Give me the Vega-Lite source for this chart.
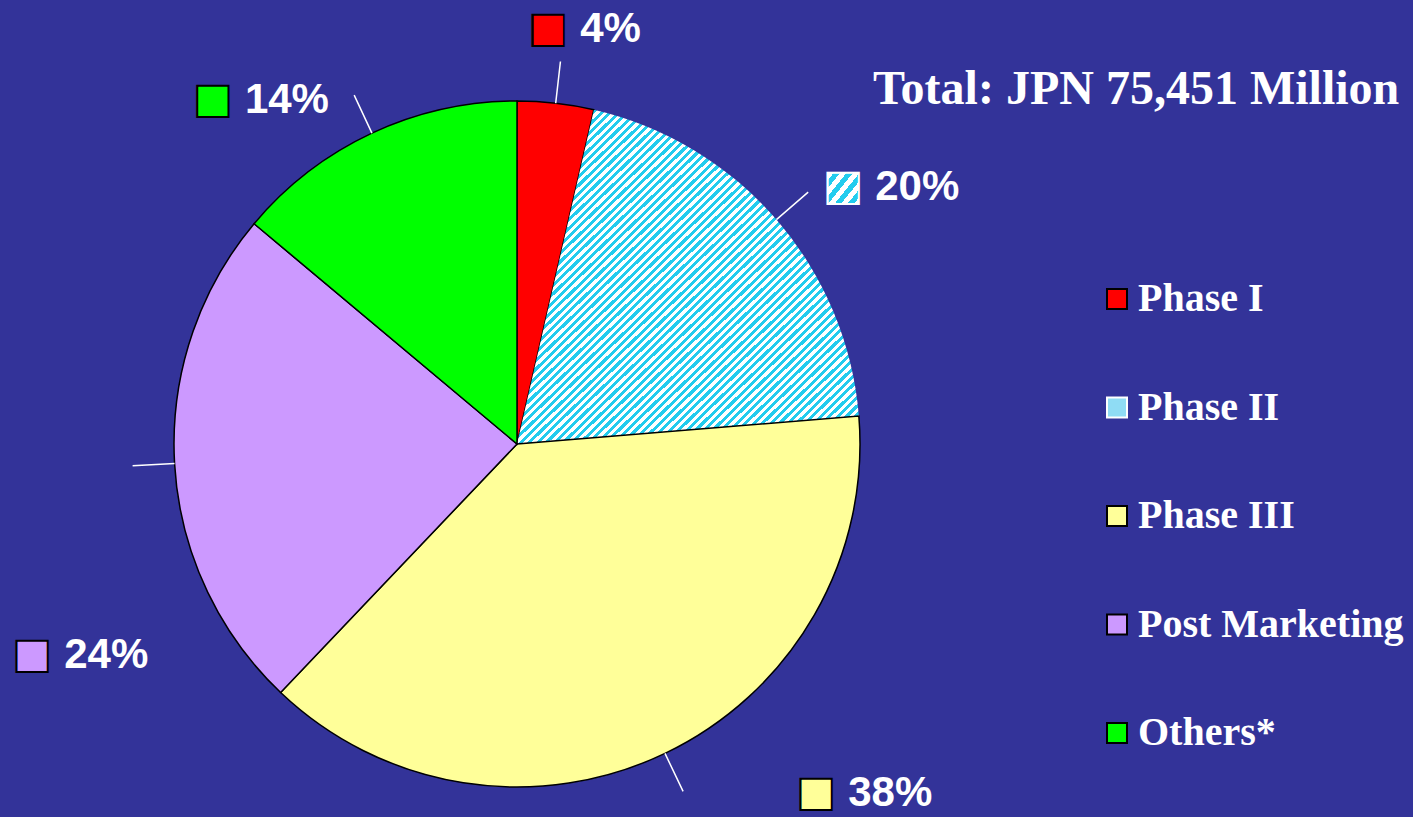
{
  "$schema": "https://vega.github.io/schema/vega-lite/v6.json",
  "width": 686,
  "height": 686,
  "autosize": {"type": "none"},
  "padding": {"left": 174, "top": 101, "right": 553, "bottom": 30},
  "background": "#333399",
  "title": {
    "text": "Total:  JPN 75,451 Million",
    "font": "Liberation Serif",
    "fontSize": 48,
    "fontWeight": "bold",
    "color": "#ffffff",
    "anchor": "start",
    "frame": "group",
    "orient": "top",
    "offset": 0,
    "baseline": "alphabetic",
    "dx": 699,
    "dy": 144
  },
  "data": {
    "values": [
      {"phase": "Phase I", "value": 3.6, "label": "4%", "rank": 1},
      {"phase": "Phase II", "value": 20.1, "label": "20%", "rank": 2},
      {"phase": "Phase III", "value": 38.4, "label": "38%", "rank": 3},
      {"phase": "Post Marketing", "value": 24.0, "label": "24%", "rank": 4},
      {"phase": "Others*", "value": 13.9, "label": "14%", "rank": 5}
    ]
  },
  "encoding": {
    "theta": {"field": "value", "type": "quantitative", "stack": true},
    "order": {"field": "rank", "type": "quantitative"}
  },
  "layer": [
    {
      "mark": {"type": "arc", "outerRadius": 343, "strokeWidth": 1.5},
      "encoding": {
        "color": {
          "condition": {
            "test": "datum.phase === 'Phase II'",
            "value": {
              "gradient": "linear", "x1": 0, "y1": 0, "x2": 1, "y2": 1,
              "stops": [
{"offset":0,"color":"#2ce"},{"offset":0.00625,"color":"#2ce"},{"offset":0.00625,"color":"#fff"},{"offset":0.0125,"color":"#fff"},{"offset":0.0125,"color":"#2ce"},{"offset":0.01875,"color":"#2ce"},{"offset":0.01875,"color":"#fff"},{"offset":0.025,"color":"#fff"},{"offset":0.025,"color":"#2ce"},{"offset":0.03125,"color":"#2ce"},{"offset":0.03125,"color":"#fff"},{"offset":0.0375,"color":"#fff"},{"offset":0.0375,"color":"#2ce"},{"offset":0.04375,"color":"#2ce"},{"offset":0.04375,"color":"#fff"},{"offset":0.05,"color":"#fff"},{"offset":0.05,"color":"#2ce"},{"offset":0.05625,"color":"#2ce"},{"offset":0.05625,"color":"#fff"},{"offset":0.0625,"color":"#fff"},{"offset":0.0625,"color":"#2ce"},{"offset":0.06875,"color":"#2ce"},{"offset":0.06875,"color":"#fff"},{"offset":0.075,"color":"#fff"},{"offset":0.075,"color":"#2ce"},{"offset":0.08125,"color":"#2ce"},{"offset":0.08125,"color":"#fff"},{"offset":0.0875,"color":"#fff"},{"offset":0.0875,"color":"#2ce"},{"offset":0.09375,"color":"#2ce"},{"offset":0.09375,"color":"#fff"},{"offset":0.1,"color":"#fff"},
{"offset":0.1,"color":"#2ce"},{"offset":0.10625,"color":"#2ce"},{"offset":0.10625,"color":"#fff"},{"offset":0.1125,"color":"#fff"},{"offset":0.1125,"color":"#2ce"},{"offset":0.11875,"color":"#2ce"},{"offset":0.11875,"color":"#fff"},{"offset":0.125,"color":"#fff"},{"offset":0.125,"color":"#2ce"},{"offset":0.13125,"color":"#2ce"},{"offset":0.13125,"color":"#fff"},{"offset":0.1375,"color":"#fff"},{"offset":0.1375,"color":"#2ce"},{"offset":0.14375,"color":"#2ce"},{"offset":0.14375,"color":"#fff"},{"offset":0.15,"color":"#fff"},{"offset":0.15,"color":"#2ce"},{"offset":0.15625,"color":"#2ce"},{"offset":0.15625,"color":"#fff"},{"offset":0.1625,"color":"#fff"},{"offset":0.1625,"color":"#2ce"},{"offset":0.16875,"color":"#2ce"},{"offset":0.16875,"color":"#fff"},{"offset":0.175,"color":"#fff"},{"offset":0.175,"color":"#2ce"},{"offset":0.18125,"color":"#2ce"},{"offset":0.18125,"color":"#fff"},{"offset":0.1875,"color":"#fff"},{"offset":0.1875,"color":"#2ce"},{"offset":0.19375,"color":"#2ce"},{"offset":0.19375,"color":"#fff"},{"offset":0.2,"color":"#fff"},
{"offset":0.2,"color":"#2ce"},{"offset":0.20625,"color":"#2ce"},{"offset":0.20625,"color":"#fff"},{"offset":0.2125,"color":"#fff"},{"offset":0.2125,"color":"#2ce"},{"offset":0.21875,"color":"#2ce"},{"offset":0.21875,"color":"#fff"},{"offset":0.225,"color":"#fff"},{"offset":0.225,"color":"#2ce"},{"offset":0.23125,"color":"#2ce"},{"offset":0.23125,"color":"#fff"},{"offset":0.2375,"color":"#fff"},{"offset":0.2375,"color":"#2ce"},{"offset":0.24375,"color":"#2ce"},{"offset":0.24375,"color":"#fff"},{"offset":0.25,"color":"#fff"},{"offset":0.25,"color":"#2ce"},{"offset":0.25625,"color":"#2ce"},{"offset":0.25625,"color":"#fff"},{"offset":0.2625,"color":"#fff"},{"offset":0.2625,"color":"#2ce"},{"offset":0.26875,"color":"#2ce"},{"offset":0.26875,"color":"#fff"},{"offset":0.275,"color":"#fff"},{"offset":0.275,"color":"#2ce"},{"offset":0.28125,"color":"#2ce"},{"offset":0.28125,"color":"#fff"},{"offset":0.2875,"color":"#fff"},{"offset":0.2875,"color":"#2ce"},{"offset":0.29375,"color":"#2ce"},{"offset":0.29375,"color":"#fff"},{"offset":0.3,"color":"#fff"},
{"offset":0.3,"color":"#2ce"},{"offset":0.30625,"color":"#2ce"},{"offset":0.30625,"color":"#fff"},{"offset":0.3125,"color":"#fff"},{"offset":0.3125,"color":"#2ce"},{"offset":0.31875,"color":"#2ce"},{"offset":0.31875,"color":"#fff"},{"offset":0.325,"color":"#fff"},{"offset":0.325,"color":"#2ce"},{"offset":0.33125,"color":"#2ce"},{"offset":0.33125,"color":"#fff"},{"offset":0.3375,"color":"#fff"},{"offset":0.3375,"color":"#2ce"},{"offset":0.34375,"color":"#2ce"},{"offset":0.34375,"color":"#fff"},{"offset":0.35,"color":"#fff"},{"offset":0.35,"color":"#2ce"},{"offset":0.35625,"color":"#2ce"},{"offset":0.35625,"color":"#fff"},{"offset":0.3625,"color":"#fff"},{"offset":0.3625,"color":"#2ce"},{"offset":0.36875,"color":"#2ce"},{"offset":0.36875,"color":"#fff"},{"offset":0.375,"color":"#fff"},{"offset":0.375,"color":"#2ce"},{"offset":0.38125,"color":"#2ce"},{"offset":0.38125,"color":"#fff"},{"offset":0.3875,"color":"#fff"},{"offset":0.3875,"color":"#2ce"},{"offset":0.39375,"color":"#2ce"},{"offset":0.39375,"color":"#fff"},{"offset":0.4,"color":"#fff"},
{"offset":0.4,"color":"#2ce"},{"offset":0.40625,"color":"#2ce"},{"offset":0.40625,"color":"#fff"},{"offset":0.4125,"color":"#fff"},{"offset":0.4125,"color":"#2ce"},{"offset":0.41875,"color":"#2ce"},{"offset":0.41875,"color":"#fff"},{"offset":0.425,"color":"#fff"},{"offset":0.425,"color":"#2ce"},{"offset":0.43125,"color":"#2ce"},{"offset":0.43125,"color":"#fff"},{"offset":0.4375,"color":"#fff"},{"offset":0.4375,"color":"#2ce"},{"offset":0.44375,"color":"#2ce"},{"offset":0.44375,"color":"#fff"},{"offset":0.45,"color":"#fff"},{"offset":0.45,"color":"#2ce"},{"offset":0.45625,"color":"#2ce"},{"offset":0.45625,"color":"#fff"},{"offset":0.4625,"color":"#fff"},{"offset":0.4625,"color":"#2ce"},{"offset":0.46875,"color":"#2ce"},{"offset":0.46875,"color":"#fff"},{"offset":0.475,"color":"#fff"},{"offset":0.475,"color":"#2ce"},{"offset":0.48125,"color":"#2ce"},{"offset":0.48125,"color":"#fff"},{"offset":0.4875,"color":"#fff"},{"offset":0.4875,"color":"#2ce"},{"offset":0.49375,"color":"#2ce"},{"offset":0.49375,"color":"#fff"},{"offset":0.5,"color":"#fff"},
{"offset":0.5,"color":"#2ce"},{"offset":0.50625,"color":"#2ce"},{"offset":0.50625,"color":"#fff"},{"offset":0.5125,"color":"#fff"},{"offset":0.5125,"color":"#2ce"},{"offset":0.51875,"color":"#2ce"},{"offset":0.51875,"color":"#fff"},{"offset":0.525,"color":"#fff"},{"offset":0.525,"color":"#2ce"},{"offset":0.53125,"color":"#2ce"},{"offset":0.53125,"color":"#fff"},{"offset":0.5375,"color":"#fff"},{"offset":0.5375,"color":"#2ce"},{"offset":0.54375,"color":"#2ce"},{"offset":0.54375,"color":"#fff"},{"offset":0.55,"color":"#fff"},{"offset":0.55,"color":"#2ce"},{"offset":0.55625,"color":"#2ce"},{"offset":0.55625,"color":"#fff"},{"offset":0.5625,"color":"#fff"},{"offset":0.5625,"color":"#2ce"},{"offset":0.56875,"color":"#2ce"},{"offset":0.56875,"color":"#fff"},{"offset":0.575,"color":"#fff"},{"offset":0.575,"color":"#2ce"},{"offset":0.58125,"color":"#2ce"},{"offset":0.58125,"color":"#fff"},{"offset":0.5875,"color":"#fff"},{"offset":0.5875,"color":"#2ce"},{"offset":0.59375,"color":"#2ce"},{"offset":0.59375,"color":"#fff"},{"offset":0.6,"color":"#fff"},
{"offset":0.6,"color":"#2ce"},{"offset":0.60625,"color":"#2ce"},{"offset":0.60625,"color":"#fff"},{"offset":0.6125,"color":"#fff"},{"offset":0.6125,"color":"#2ce"},{"offset":0.61875,"color":"#2ce"},{"offset":0.61875,"color":"#fff"},{"offset":0.625,"color":"#fff"},{"offset":0.625,"color":"#2ce"},{"offset":0.63125,"color":"#2ce"},{"offset":0.63125,"color":"#fff"},{"offset":0.6375,"color":"#fff"},{"offset":0.6375,"color":"#2ce"},{"offset":0.64375,"color":"#2ce"},{"offset":0.64375,"color":"#fff"},{"offset":0.65,"color":"#fff"},{"offset":0.65,"color":"#2ce"},{"offset":0.65625,"color":"#2ce"},{"offset":0.65625,"color":"#fff"},{"offset":0.6625,"color":"#fff"},{"offset":0.6625,"color":"#2ce"},{"offset":0.66875,"color":"#2ce"},{"offset":0.66875,"color":"#fff"},{"offset":0.675,"color":"#fff"},{"offset":0.675,"color":"#2ce"},{"offset":0.68125,"color":"#2ce"},{"offset":0.68125,"color":"#fff"},{"offset":0.6875,"color":"#fff"},{"offset":0.6875,"color":"#2ce"},{"offset":0.69375,"color":"#2ce"},{"offset":0.69375,"color":"#fff"},{"offset":0.7,"color":"#fff"},
{"offset":0.7,"color":"#2ce"},{"offset":0.70625,"color":"#2ce"},{"offset":0.70625,"color":"#fff"},{"offset":0.7125,"color":"#fff"},{"offset":0.7125,"color":"#2ce"},{"offset":0.71875,"color":"#2ce"},{"offset":0.71875,"color":"#fff"},{"offset":0.725,"color":"#fff"},{"offset":0.725,"color":"#2ce"},{"offset":0.73125,"color":"#2ce"},{"offset":0.73125,"color":"#fff"},{"offset":0.7375,"color":"#fff"},{"offset":0.7375,"color":"#2ce"},{"offset":0.74375,"color":"#2ce"},{"offset":0.74375,"color":"#fff"},{"offset":0.75,"color":"#fff"},{"offset":0.75,"color":"#2ce"},{"offset":0.75625,"color":"#2ce"},{"offset":0.75625,"color":"#fff"},{"offset":0.7625,"color":"#fff"},{"offset":0.7625,"color":"#2ce"},{"offset":0.76875,"color":"#2ce"},{"offset":0.76875,"color":"#fff"},{"offset":0.775,"color":"#fff"},{"offset":0.775,"color":"#2ce"},{"offset":0.78125,"color":"#2ce"},{"offset":0.78125,"color":"#fff"},{"offset":0.7875,"color":"#fff"},{"offset":0.7875,"color":"#2ce"},{"offset":0.79375,"color":"#2ce"},{"offset":0.79375,"color":"#fff"},{"offset":0.8,"color":"#fff"},
{"offset":0.8,"color":"#2ce"},{"offset":0.80625,"color":"#2ce"},{"offset":0.80625,"color":"#fff"},{"offset":0.8125,"color":"#fff"},{"offset":0.8125,"color":"#2ce"},{"offset":0.81875,"color":"#2ce"},{"offset":0.81875,"color":"#fff"},{"offset":0.825,"color":"#fff"},{"offset":0.825,"color":"#2ce"},{"offset":0.83125,"color":"#2ce"},{"offset":0.83125,"color":"#fff"},{"offset":0.8375,"color":"#fff"},{"offset":0.8375,"color":"#2ce"},{"offset":0.84375,"color":"#2ce"},{"offset":0.84375,"color":"#fff"},{"offset":0.85,"color":"#fff"},{"offset":0.85,"color":"#2ce"},{"offset":0.85625,"color":"#2ce"},{"offset":0.85625,"color":"#fff"},{"offset":0.8625,"color":"#fff"},{"offset":0.8625,"color":"#2ce"},{"offset":0.86875,"color":"#2ce"},{"offset":0.86875,"color":"#fff"},{"offset":0.875,"color":"#fff"},{"offset":0.875,"color":"#2ce"},{"offset":0.88125,"color":"#2ce"},{"offset":0.88125,"color":"#fff"},{"offset":0.8875,"color":"#fff"},{"offset":0.8875,"color":"#2ce"},{"offset":0.89375,"color":"#2ce"},{"offset":0.89375,"color":"#fff"},{"offset":0.9,"color":"#fff"},
{"offset":0.9,"color":"#2ce"},{"offset":0.90625,"color":"#2ce"},{"offset":0.90625,"color":"#fff"},{"offset":0.9125,"color":"#fff"},{"offset":0.9125,"color":"#2ce"},{"offset":0.91875,"color":"#2ce"},{"offset":0.91875,"color":"#fff"},{"offset":0.925,"color":"#fff"},{"offset":0.925,"color":"#2ce"},{"offset":0.93125,"color":"#2ce"},{"offset":0.93125,"color":"#fff"},{"offset":0.9375,"color":"#fff"},{"offset":0.9375,"color":"#2ce"},{"offset":0.94375,"color":"#2ce"},{"offset":0.94375,"color":"#fff"},{"offset":0.95,"color":"#fff"},{"offset":0.95,"color":"#2ce"},{"offset":0.95625,"color":"#2ce"},{"offset":0.95625,"color":"#fff"},{"offset":0.9625,"color":"#fff"},{"offset":0.9625,"color":"#2ce"},{"offset":0.96875,"color":"#2ce"},{"offset":0.96875,"color":"#fff"},{"offset":0.975,"color":"#fff"},{"offset":0.975,"color":"#2ce"},{"offset":0.98125,"color":"#2ce"},{"offset":0.98125,"color":"#fff"},{"offset":0.9875,"color":"#fff"},{"offset":0.9875,"color":"#2ce"},{"offset":0.99375,"color":"#2ce"},{"offset":0.99375,"color":"#fff"},{"offset":1,"color":"#fff"}
              ]
            }
          },
          "field": "phase",
          "type": "nominal",
          "scale": {
            "domain": ["Phase I", "Phase II", "Phase III", "Post Marketing", "Others*"],
            "range": ["#ff0000", "#8fdcf4", "#ffff99", "#cc99ff", "#00ff00"]
          },
          "legend": {
            "orient": "none",
            "legendX": 923,
            "legendY": 178,
            "title": null,
            "direction": "vertical",
            "symbolType": "square",
            "symbolSize": 400,
            "symbolStrokeColor": "#000000",
            "symbolStrokeWidth": 2,
            "labelFont": "Liberation Serif",
            "labelFontWeight": "bold",
            "labelFontSize": 40,
            "labelColor": "#ffffff",
            "labelLimit": 0,
            "labelOffset": 1,
            "rowPadding": 68.5,
            "padding": 0,
            "encode": {
              "symbols": {
                "update": {
                  "stroke": {"signal": "datum.value === 'Phase II' ? '#ffffff' : '#000000'"},
                  "opacity": {"value": 1}
                }
              }
            }
          }
        },
        "stroke": {
          "condition": {"test": "datum.phase === 'Phase II'", "value": "transparent"},
          "value": "#000000"
        }
      }
    },
    {
      "mark": {
        "type": "arc",
        "innerRadius": 343,
        "outerRadius": 385,
        "padAngle": 3,
        "filled": false,
        "stroke": "#ffffff",
        "strokeWidth": 1.5
      },
      "encoding": {"detail": {"field": "phase"}}
    },
    {
      "mark": {
        "type": "text",
        "text": "■",
        "font": "DejaVu Sans",
        "fontSize": 41,
        "radius": 418,
        "radiusOffset": {"expr": "datum.phase === 'Phase II' ? 10 : datum.phase === 'Phase III' ? 52 : datum.phase === 'Post Marketing' ? 96 : datum.phase === 'Others*' ? 31 : 0"},
        "thetaOffset": {"expr": "datum.phase === 'Phase II' ? 0.069 : datum.phase === 'Phase III' ? -0.289 : datum.phase === 'Post Marketing' ? -0.366 : datum.phase === 'Others*' ? -0.26 : 0"},
        "dx": -16,
        "align": "center",
        "baseline": "middle",
        "strokeWidth": 2
      },
      "encoding": {
        "color": {
          "condition": {
            "test": "datum.phase === 'Phase II'",
            "value": {
              "gradient": "linear", "x1": 0, "y1": 0, "x2": 1, "y2": 1,
              "stops": [
                {"offset":0,"color":"#fff"},{"offset":0.0833,"color":"#fff"},{"offset":0.0833,"color":"#2ce"},{"offset":0.1667,"color":"#2ce"},{"offset":0.1667,"color":"#fff"},{"offset":0.25,"color":"#fff"},{"offset":0.25,"color":"#2ce"},{"offset":0.3333,"color":"#2ce"},{"offset":0.3333,"color":"#fff"},{"offset":0.4167,"color":"#fff"},{"offset":0.4167,"color":"#2ce"},{"offset":0.5,"color":"#2ce"},{"offset":0.5,"color":"#fff"},{"offset":0.5833,"color":"#fff"},{"offset":0.5833,"color":"#2ce"},{"offset":0.6667,"color":"#2ce"},{"offset":0.6667,"color":"#fff"},{"offset":0.75,"color":"#fff"},{"offset":0.75,"color":"#2ce"},{"offset":0.8333,"color":"#2ce"},{"offset":0.8333,"color":"#fff"},{"offset":0.9167,"color":"#fff"},{"offset":0.9167,"color":"#2ce"},{"offset":1,"color":"#2ce"}
              ]
            }
          },
          "field": "phase",
          "type": "nominal",
          "legend": null
        },
        "stroke": {
          "condition": {"test": "datum.phase === 'Phase II'", "value": "#ffffff"},
          "value": "#000000"
        }
      }
    },
    {
      "mark": {
        "type": "text",
        "font": "Liberation Sans",
        "fontWeight": "bold",
        "fontSize": 42,
        "radius": 418,
        "radiusOffset": {"expr": "datum.phase === 'Phase II' ? 10 : datum.phase === 'Phase III' ? 52 : datum.phase === 'Post Marketing' ? 96 : datum.phase === 'Others*' ? 31 : 0"},
        "thetaOffset": {"expr": "datum.phase === 'Phase II' ? 0.069 : datum.phase === 'Phase III' ? -0.289 : datum.phase === 'Post Marketing' ? -0.366 : datum.phase === 'Others*' ? -0.26 : 0"},
        "dx": 16,
        "align": "left",
        "baseline": "middle",
        "fill": "#ffffff"
      },
      "encoding": {
        "text": {"field": "label"},
        "detail": {"field": "phase"}
      }
    }
  ],
  "config": {"view": {"stroke": null}}
}
